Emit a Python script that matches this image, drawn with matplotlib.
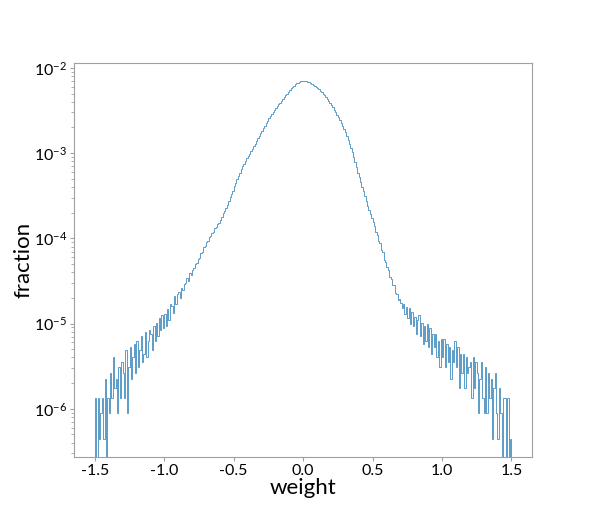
import numpy as np
import matplotlib
matplotlib.use("Agg")
import matplotlib.pyplot as plt

plt.rcParams['font.family'] = ['Lato', 'DejaVu Sans']
plt.rcParams['mathtext.default'] = 'regular'
plt.rcParams['axes.unicode_minus'] = False

# histogram of weights, 0.01 wide bins from -1.5 to 1.5
bin_lo = -1.5
bin_hi = 1.5
n_total = 2250000

# counts per bin (left tail -> peak -> right tail)
counts_left = [
    3, 0, 3, 1, 2,
    3, 1, 5, 0, 3,
    2, 6, 3, 9, 4,
    5, 2, 7, 3, 8,
    6, 3, 11, 2, 7,
    12, 5, 9, 13, 6,
    14, 7, 11, 16, 8,
    10, 18, 9, 14, 19,
    17, 11, 21, 14, 23,
    16, 26, 19, 28, 20,
    29, 21, 33, 25, 38,
    36, 30, 47, 38, 50,
    53, 45, 59, 56, 66,
    68, 78, 72, 88, 83,
    97, 101, 112, 116, 128,
    131, 150, 156, 176, 183,
    205, 210, 233, 238, 259,
    268, 296, 302, 330, 341,
    372, 398, 445, 466, 515,
    560, 610, 680, 745, 820,
    920, 1010, 1110, 1215, 1330,
    1460, 1580, 1700, 1820, 1950,
    2070, 2220, 2380, 2550, 2730,
    2900, 3120, 3350, 3600, 3870,
    4130, 4420, 4730, 5060, 5400,
    5800, 6150, 6520, 6900, 7300,
    7700, 8050, 8420, 8790, 9170,
    9750, 10230, 10730, 11250, 11780,
    12400, 12950, 13450, 13950, 14400,
    14800, 15150, 15450, 15650, 15800,
]
counts_right = [
    15850, 15800, 15650, 15450, 15200,
    14950, 14650, 14300, 13950, 13600,
    13200, 12700, 12150, 11600, 11100,
    10750, 10250, 9700, 9200, 8700,
    8300, 7800, 7300, 6800, 6350,
    5950, 5500, 5050, 4650, 4300,
    3980, 3600, 3250, 2920, 2620,
    2320, 2030, 1760, 1540, 1330,
    1180, 1040, 910, 800, 700,
    610, 545, 480, 430, 385,
    352, 318, 270, 246, 208,
    198, 166, 156, 127, 120,
    104, 96, 80, 75, 63,
    64, 52, 50, 43, 44,
    39, 34, 38, 29, 35,
    26, 34, 22, 31, 21,
    27, 17, 25, 28, 16,
    23, 13, 21, 14, 22,
    12, 20, 10, 17, 12,
    17, 9, 14, 7, 15,
    9, 15, 7, 13, 8,
    12, 5, 11, 8, 14,
    7, 12, 4, 10, 6,
    10, 4, 9, 6, 7,
    8, 3, 9, 4, 8,
    6, 2, 5, 8, 3,
    2, 7, 2, 6, 3,
    5, 1, 4, 6, 2,
    1, 4, 2, 0, 3,
    3, 0, 3, 0, 1,
]

counts = np.array(counts_left + counts_right, dtype=float)
fraction = counts / n_total
edges = np.linspace(bin_lo, bin_hi, len(counts) + 1)

fig = plt.figure(figsize=(5.92, 5.23), dpi=100)
ax = fig.add_axes([0.125, 0.127, 0.774, 0.753])

ax.stairs(fraction, edges, color='#1f77b4', linewidth=0.6, alpha=0.85)
ax.set_yscale('log')
ax.set_xlim(-1.65, 1.65)
ax.set_ylim(2.75e-7, 1.15e-2)
ax.set_xticks([-1.5, -1.0, -0.5, 0.0, 0.5, 1.0, 1.5])

# grey frame and small grey ticks
for side in ax.spines.values():
    side.set_color('#a0a0a0')
ax.tick_params(which='major', length=3, width=0.8, color='#a0a0a0', labelsize=11.5, pad=2)
ax.tick_params(which='minor', length=2, width=0.6, color='#a0a0a0')

ax.set_xlabel('weight', fontsize=16, labelpad=0)
ax.set_ylabel('fraction', fontsize=16, labelpad=0)

fig.savefig('out.png', dpi=100)
